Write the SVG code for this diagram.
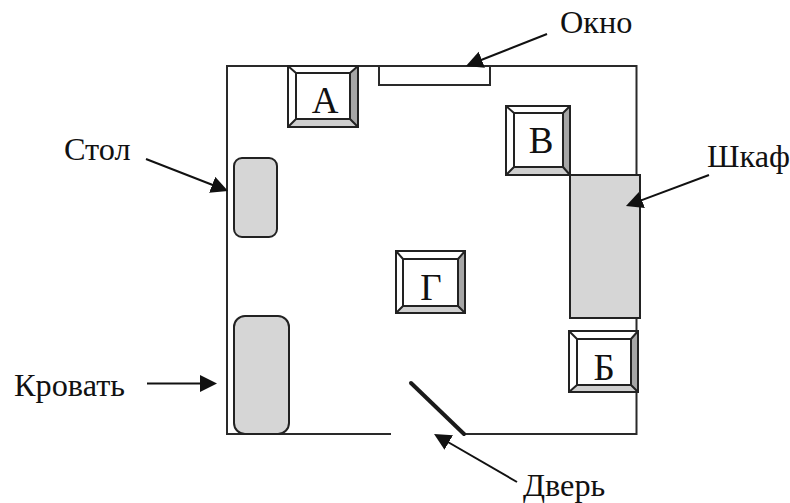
<svg xmlns="http://www.w3.org/2000/svg" width="790" height="503" viewBox="0 0 790 503">
<defs>
<marker id="ah" markerUnits="userSpaceOnUse" markerWidth="20" markerHeight="18" refX="13" refY="8.500" orient="auto"><path d="M0 0L17 8.500L0 17Z" fill="#111"/></marker>
</defs>
<style>
.l{font-family:"Liberation Serif","Times New Roman",serif;font-size:32.3px;fill:#111}
.k{font-family:"Liberation Serif","Times New Roman",serif;font-size:37px;fill:#111;text-anchor:middle}
.w{fill:none;stroke:#2a2a2a;stroke-width:2}
.f{fill:#d6d6d6;stroke:#222;stroke-width:2}
.c{fill:none;stroke:#111;stroke-width:2;marker-end:url(#ah)}
.o{fill:#fff;stroke:#222;stroke-width:2}
.i{fill:none;stroke:#222;stroke-width:2}
.r{fill:#a6a6a6}
.b{fill:#cfcfcf}
</style>
<rect width="790" height="503" fill="#fff"/>
<g id="room"><path class="w" d="M391 434H227V66H636.500V434H465"/></g>
<g id="window"><rect x="379" y="66" width="111" height="19" fill="#fff" stroke="#2a2a2a" stroke-width="2"/></g>
<g id="door"><path d="M411 383L464 434" fill="none" stroke="#1a1a1a" stroke-width="4" stroke-linecap="round"/></g>
<g id="table"><rect class="f" x="234" y="158" width="43" height="79" rx="8"/></g>
<g id="bed"><rect class="f" x="234" y="316" width="55" height="118" rx="11"/></g>
<g id="wardrobe"><rect class="f" x="570" y="175" width="70" height="143"/></g>
<g id="node-a">
<rect class="o" x="288" y="66" width="70" height="61"/>
<path class="r" d="M350 73L358 66V127L350 119Z"/><path class="b" d="M296 119H350L358 127H288Z"/>
<path class="i" d="M288 66L296 73M358 66L350 73M288 127L296 119M358 127L350 119M288 66H358V127H288Z"/>
<rect class="i" x="296" y="73" width="54" height="46"/>
<text class="k" x="325" y="113">А</text></g>
<g id="node-v">
<rect class="o" x="506" y="106" width="64" height="69"/>
<path class="r" d="M563 113L570 106V175L563 167Z"/><path class="b" d="M514 167H563L570 175H506Z"/>
<path class="i" d="M506 106L514 113M570 106L563 113M506 175L514 167M570 175L563 167M506 106H570V175H506Z"/>
<rect class="i" x="514" y="113" width="49" height="54"/>
<text class="k" x="541" y="153">В</text></g>
<g id="node-g">
<rect class="o" x="396" y="251" width="69" height="62"/>
<path class="r" d="M458 259L465 251V313L458 306Z"/><path class="b" d="M403 306H458L465 313H396Z"/>
<path class="i" d="M396 251L403 259M465 251L458 259M396 313L403 306M465 313L458 306M396 251H465V313H396Z"/>
<rect class="i" x="403" y="259" width="55" height="47"/>
<text class="k" x="431" y="300">Г</text></g>
<g id="node-b">
<rect class="o" x="569" y="331" width="69" height="61"/>
<path class="r" d="M631 339L638 331V392L631 385Z"/><path class="b" d="M577 385H631L638 392H569Z"/>
<path class="i" d="M569 331L577 339M638 331L631 339M569 392L577 385M638 392L631 385M569 331H638V392H569Z"/>
<rect class="i" x="577" y="339" width="54" height="46"/>
<text class="k" x="604" y="380">Б</text></g>
<g id="connectors">
<path class="c" d="M547 34L469.700 64.500"/>
<path class="c" d="M146 159L224.300 189.500"/>
<path class="c" d="M147 383.500H213"/>
<path class="c" d="M709 175L629.700 204.600"/>
<path class="c" d="M517 482L437.500 436"/>
</g>
<g id="labels">
<text class="l" x="560" y="33">Окно</text>
<text class="l" x="64" y="160">Стол</text>
<text class="l" x="707" y="167">Шкаф</text>
<text class="l" x="14" y="396">Кровать</text>
<text class="l" x="523" y="495.500">Дверь</text>
</g>
</svg>
